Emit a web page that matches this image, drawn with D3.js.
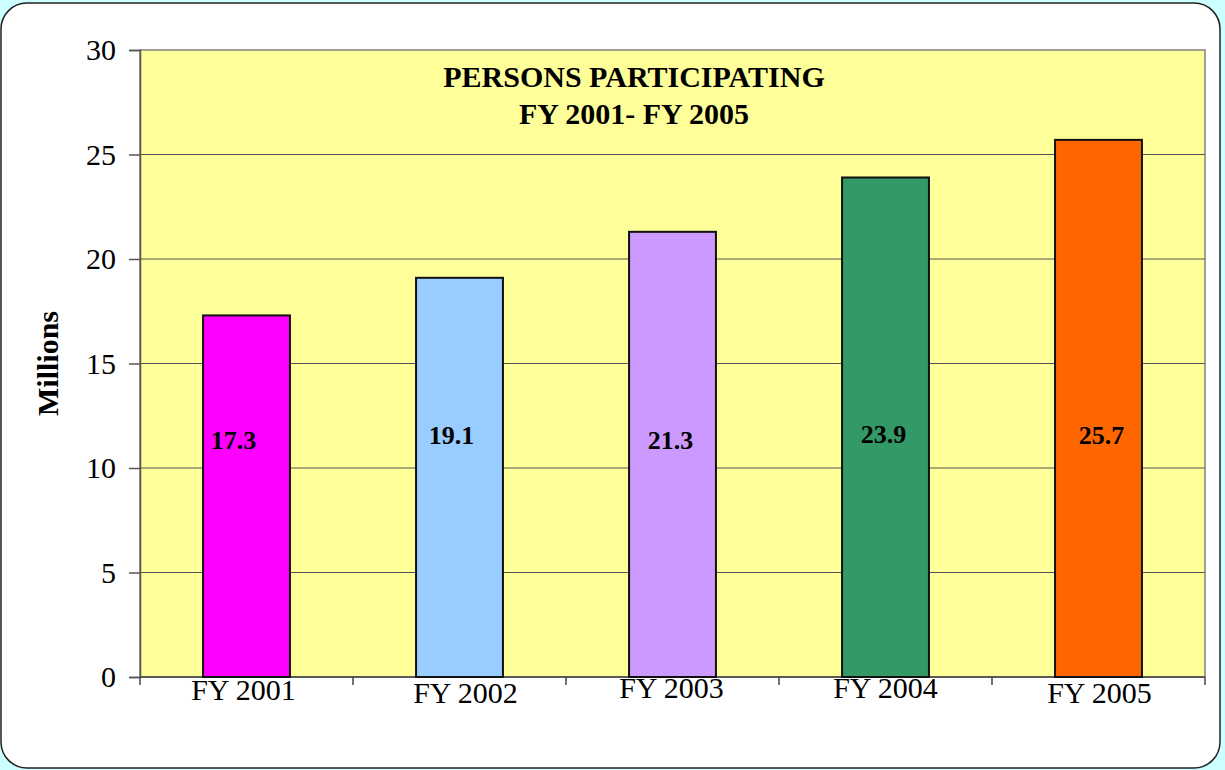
<!DOCTYPE html>
<html>
<head>
<meta charset="utf-8">
<script src="https://cdn.jsdelivr.net/npm/d3@7"></script>
<style>
  html, body { margin: 0; padding: 0; background: #ccffff; }
  svg { display: block; }
</style>
</head>
<body>
<svg id="chart" width="1225" height="770"></svg>
<script>
var categories = ['FY 2001', 'FY 2002', 'FY 2003', 'FY 2004', 'FY 2005'];
var values = [17.3, 19.1, 21.3, 23.9, 25.7];
var barColors = ['#ff00ff', '#99ccff', '#cc99ff', '#339966', '#ff6600'];
var yTicks = [0, 5, 10, 15, 20, 25, 30];
var titleLines = ['PERSONS PARTICIPATING', 'FY 2001- FY 2005'];

var svg = d3.select('#chart');
var serif = '"Liberation Serif", "Times New Roman", serif';

// the original labels are nudged by hand, so are these
var labelNudge = [[-13, 449], [-8, 444], [-2, 449], [-2, 443], [3, 444]];
var catNudge = [[-3, 700], [6, 703], [-1, 698], [0, 698], [1, 703]];

// outer rounded frame
svg.append('rect')
  .attr('x', 1).attr('y', 3)
  .attr('width', 1219).attr('height', 765)
  .attr('rx', 26).attr('ry', 26)
  .attr('fill', '#ffffff')
  .attr('stroke', '#222')
  .attr('stroke-width', 1.5);

var plot = {left: 140, right: 1205, top: 50, bottom: 677};

var x = d3.scaleBand()
  .domain(categories)
  .range([plot.left, plot.right])
  .paddingInner(0.592)
  .paddingOuter(0.296);

var y = d3.scaleLinear()
  .domain([0, 30])
  .range([plot.bottom, plot.top]);

// plot background
svg.append('rect')
  .attr('x', plot.left).attr('y', plot.top)
  .attr('width', plot.right - plot.left)
  .attr('height', plot.bottom - plot.top)
  .attr('fill', '#ffff99')
  .attr('stroke', '#808080')
  .attr('stroke-width', 1.5);

// gridlines
svg.append('g')
  .selectAll('line')
  .data(yTicks.filter(function(d) { return d > 0 && d < 30; }))
  .enter().append('line')
  .attr('x1', plot.left).attr('x2', plot.right)
  .attr('y1', function(d) { return y(d); })
  .attr('y2', function(d) { return y(d); })
  .attr('stroke', '#555')
  .attr('stroke-width', 1);

// y axis
var yAxis = svg.append('g')
  .attr('transform', 'translate(' + plot.left + ',0)')
  .call(d3.axisLeft(y).tickValues(yTicks).tickSize(11).tickPadding(13));
yAxis.select('.domain').attr('stroke', '#555').attr('stroke-width', 1.5);
yAxis.selectAll('.tick line').attr('stroke', '#555').attr('stroke-width', 1.5);
yAxis.selectAll('.tick text')
  .attr('font-family', serif)
  .attr('font-size', 30)
  .attr('fill', '#000');

// x axis: ticks at category boundaries
var bounds = d3.range(categories.length + 1).map(function(i) {
  return plot.left + i * x.step();
});
svg.append('line')
  .attr('x1', plot.left).attr('x2', plot.right)
  .attr('y1', plot.bottom).attr('y2', plot.bottom)
  .attr('stroke', '#444').attr('stroke-width', 1.5);
svg.append('g')
  .selectAll('line')
  .data(bounds)
  .enter().append('line')
  .attr('x1', function(d) { return d; })
  .attr('x2', function(d) { return d; })
  .attr('y1', plot.bottom).attr('y2', plot.bottom + 8)
  .attr('stroke', '#444').attr('stroke-width', 1.5);

svg.append('g')
  .selectAll('text')
  .data(categories)
  .enter().append('text')
  .attr('x', function(d, i) { return x(d) + x.bandwidth() / 2 + catNudge[i][0]; })
  .attr('y', function(d, i) { return catNudge[i][1]; })
  .attr('text-anchor', 'middle')
  .attr('font-family', serif)
  .attr('font-size', 30)
  .text(function(d) { return d; });

// bars
svg.append('g')
  .selectAll('rect')
  .data(values)
  .enter().append('rect')
  .attr('x', function(d, i) { return x(categories[i]); })
  .attr('y', function(d) { return y(d); })
  .attr('width', x.bandwidth())
  .attr('height', function(d) { return y(0) - y(d); })
  .attr('fill', function(d, i) { return barColors[i]; })
  .attr('stroke', '#111')
  .attr('stroke-width', 2);

// value labels
svg.append('g')
  .selectAll('text')
  .data(values)
  .enter().append('text')
  .attr('x', function(d, i) { return x(categories[i]) + x.bandwidth() / 2 + labelNudge[i][0]; })
  .attr('y', function(d, i) { return labelNudge[i][1]; })
  .attr('text-anchor', 'middle')
  .attr('font-family', serif)
  .attr('font-weight', 'bold')
  .attr('font-size', 26)
  .text(function(d) { return d.toFixed(1); });

// title
svg.append('g')
  .selectAll('text')
  .data(titleLines)
  .enter().append('text')
  .attr('x', 634)
  .attr('y', function(d, i) { return 87 + i * 37; })
  .attr('text-anchor', 'middle')
  .attr('font-family', serif)
  .attr('font-weight', 'bold')
  .attr('font-size', 30)
  .text(function(d) { return d; });

// y axis title
svg.append('text')
  .attr('transform', 'translate(58,' + ((plot.top + plot.bottom) / 2) + ') rotate(-90)')
  .attr('text-anchor', 'middle')
  .attr('font-family', serif)
  .attr('font-weight', 'bold')
  .attr('font-size', 30)
  .text('Millions');
</script>
</body>
</html>
